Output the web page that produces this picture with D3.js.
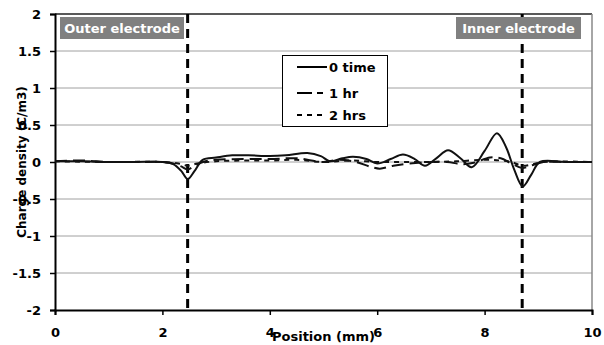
<!DOCTYPE html>
<html><head><meta charset="utf-8">
<script src="https://cdn.jsdelivr.net/npm/d3@7"></script>
<style>body{margin:0;background:#fff}svg{display:block;font-family:"DejaVu Sans",sans-serif}</style>
</head><body><svg id="c" width="604" height="345"></svg>
<script>
const xTicks=[0,2,4,6,8,10];
const yTicks=[-2,-1.5,-1,-0.5,0,0.5,1,1.5,2];
const electrodes=[{x:2.47,label:"Outer electrode"},{x:8.7,label:"Inner electrode"}];
const seriesNames=["0 time","1 hr","2 hrs"];
const x0=[0,0.5,1,1.5,2,2.2,2.35,2.47,2.6,2.75,3.0,3.3,3.6,4.0,4.3,4.7,4.95,5.12,5.35,5.55,5.8,6.0,6.25,6.48,6.7,6.89,7.1,7.32,7.55,7.76,8.0,8.23,8.4,8.55,8.71,8.87,9.03,9.5,10];
const y0=[0.01,0.01,0.0,0.0,0.0,-0.03,-0.12,-0.23,-0.12,0.03,0.06,0.09,0.09,0.08,0.09,0.12,0.08,0.01,0.05,0.07,0.04,-0.02,0.04,0.1,0.04,-0.05,0.05,0.16,0.05,-0.07,0.15,0.39,0.2,-0.1,-0.33,-0.17,0.0,0.0,0.0];
const x1=[0,0.5,1,1.5,2,2.2,2.35,2.47,2.6,2.8,3.0,3.5,4.0,4.5,5.0,5.3,5.6,5.9,6.05,6.3,6.6,7.0,7.3,7.6,7.8,8.1,8.3,8.5,8.7,8.9,9.1,9.5,10];
const y1=[0.01,0.02,0.0,0.0,0.0,-0.02,-0.06,-0.1,-0.05,0.01,0.03,0.04,0.04,0.05,0.0,0.03,0.0,-0.07,-0.09,-0.05,-0.02,0.0,0.0,-0.03,-0.01,0.06,0.05,-0.02,-0.08,-0.04,0.0,0,0];
const x2=[0,1,2,2.3,2.47,2.65,3,3.5,4,4.5,5,5.5,6,6.5,7,7.5,8,8.3,8.5,8.7,8.9,9.1,10];
const y2=[0.01,0,0,-0.02,-0.05,-0.02,0.01,0.02,0.02,0.03,0.0,0.02,0.0,0.0,0.0,0.01,0.03,0.02,0.0,-0.05,-0.03,0,0];

const FONT="DejaVu Sans, sans-serif";
const svg=d3.select("#c");
const x=d3.scaleLinear().domain([0,10]).range([55,592]);
const y=d3.scaleLinear().domain([-2,2]).range([310,14]);

// grid
svg.append("g").selectAll("line").data(yTicks.filter(v=>v>-2&&v<2)).join("line")
 .attr("x1",x(0)).attr("x2",x(10)).attr("y1",d=>y(d)).attr("y2",d=>y(d))
 .attr("stroke","#a0a0a0").attr("stroke-width",1);
// frame
svg.append("line").attr("x1",x(0)).attr("x2",x(10)).attr("y1",y(2)).attr("y2",y(2)).attr("stroke","#222").attr("stroke-width",1.5);
svg.append("line").attr("x1",x(10)).attr("x2",x(10)).attr("y1",y(2)).attr("y2",y(-2)).attr("stroke","#888").attr("stroke-width",1.5);

// axes
const ya=svg.append("g").attr("transform",`translate(${x(0)},0)`)
 .call(d3.axisLeft(y).tickValues(yTicks).tickSize(5).tickPadding(9).tickFormat(d=>String(d)));
const xa=svg.append("g").attr("transform",`translate(0,${y(-2)})`)
 .call(d3.axisBottom(x).tickValues(xTicks).tickSize(5).tickPadding(13).tickFormat(d=>String(d)));
[ya,xa].forEach(g=>{g.select(".domain").attr("stroke","#000").attr("stroke-width",2);
 g.selectAll(".tick line").attr("stroke","#000").attr("stroke-width",1.5);
 g.selectAll("text").attr("font-size",13).attr("font-weight","bold").attr("fill","#000").attr("font-family",FONT);});

// electrode lines
svg.append("g").selectAll("line").data(electrodes).join("line")
 .attr("x1",d=>x(d.x)).attr("x2",d=>x(d.x)).attr("y1",y(2)).attr("y2",y(-2))
 .attr("stroke","#000").attr("stroke-width",3).attr("stroke-dasharray","9,6");

// series
const line=d3.line().x(d=>x(d[0])).y(d=>y(d[1])).curve(d3.curveCatmullRom.alpha(0.5));
const series=[
 {name:seriesNames[0],xs:x0,ys:y0,dash:null,w:2},
 {name:seriesNames[1],xs:x1,ys:y1,dash:"12,6",w:2},
 {name:seriesNames[2],xs:x2,ys:y2,dash:"5,5",w:2}
];
series.slice().reverse().forEach(s=>{
 svg.append("path").datum(s.xs.map((v,i)=>[v,s.ys[i]])).attr("d",line)
  .attr("fill","none").attr("stroke","#111").attr("stroke-width",s.w)
  .attr("stroke-dasharray",s.dash);
});

// electrode labels
const boxes=[{x0:60,x1:184},{x0:456,x1:581}];
electrodes.forEach((e,i)=>{
 const b=boxes[i];
 svg.append("rect").attr("x",b.x0).attr("y",17).attr("width",b.x1-b.x0).attr("height",22).attr("fill","#808080");
 svg.append("text").attr("x",(b.x0+b.x1)/2).attr("y",33).attr("text-anchor","middle")
  .attr("font-size",13).attr("font-weight","bold").attr("fill","#fff").text(e.label);
});

// legend
const lg=svg.append("g");
lg.append("rect").attr("x",282.5).attr("y",55.5).attr("width",105).attr("height",71).attr("fill","#fff").attr("stroke","#000").attr("stroke-width",1);
series.forEach((s,i)=>{
 const ly=[67,93,115][i];
 lg.append("line").attr("x1",297).attr("x2",327).attr("y1",ly).attr("y2",ly)
  .attr("stroke","#000").attr("stroke-width",2).attr("stroke-dasharray",i===1?"15,5,6,6":s.dash);
 lg.append("text").attr("x",329).attr("y",ly+5).attr("font-size",13).attr("font-weight","bold").text(s.name);
});

// axis titles
svg.append("text").attr("x",323.5).attr("y",341).attr("text-anchor","middle").attr("font-size",13).attr("font-weight","bold").text("Position (mm)");
svg.append("text").attr("transform","translate(26,162) rotate(-90)").attr("text-anchor","middle").attr("font-size",12).attr("font-weight","bold").text("Charge density (C/m3)");
</script></body></html>
